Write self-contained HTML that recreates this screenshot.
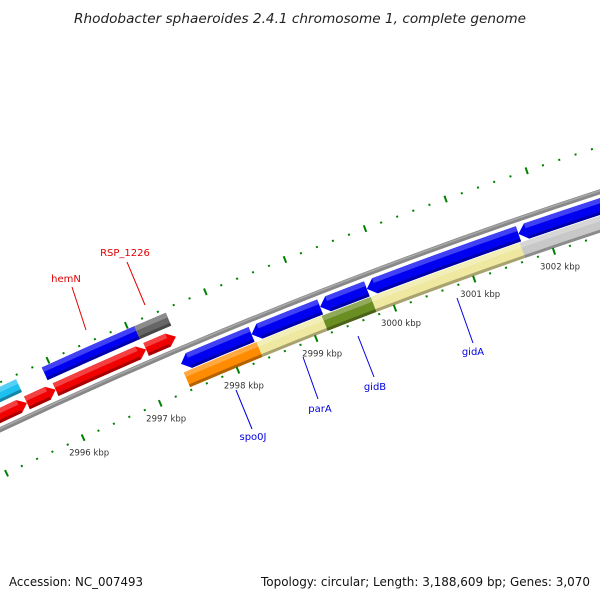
<!DOCTYPE html>
<html><head><meta charset="utf-8">
<style>
html,body{margin:0;padding:0;background:#fff;width:600px;height:600px;overflow:hidden;}
svg{display:block;}
text{font-family:"DejaVu Sans","Liberation Sans",sans-serif;}
</style></head>
<body>
<svg id="map" width="600" height="600" viewBox="0 0 600 600" xmlns="http://www.w3.org/2000/svg">
<defs><clipPath id="clip"><rect x="0" y="0" width="600" height="600"/></clipPath></defs>
<text x="300" y="23" text-anchor="middle" font-size="13" font-style="italic" fill="#222" textLength="452" lengthAdjust="spacingAndGlyphs">Rhodobacter sphaeroides 2.4.1 chromosome 1, complete genome</text>
<g id="plot" clip-path="url(#clip)"></g>
<text x="9" y="586" font-size="12" fill="#111" textLength="134" lengthAdjust="spacingAndGlyphs">Accession: NC_007493</text>
<text x="261" y="586" font-size="12" fill="#111" textLength="329" lengthAdjust="spacingAndGlyphs">Topology: circular; Length: 3,188,609 bp; Genes: 3,070</text>
</svg>
<script>
// data
const geneStarts = [2994.0, 2995.9, 2997.08, 2994.0, 2995.57, 2995.94, 2997.1, 2997.41, 2998.31, 2999.18, 2999.77, 3001.67, 2997.4, 2998.33, 2999.16, 2999.78, 3001.65];
const geneEnds   = [2995.57, 2997.08, 2997.48, 2995.57, 2995.94, 2997.1, 2997.48, 2998.31, 2999.18, 2999.77, 3001.67, 3004.0, 2998.33, 2999.16, 2999.78, 3001.65, 3004.0];
const geneRows   = ['lb','lb','lb','lr','lr','lr','lr','rb','rb','rb','rb','rb','ry','ry','ry','ry','ry'];
const geneColors = ['#1ec0f0','#0000f0','#666666','#f00000','#f00000','#f00000','#f00000','#0000f0','#0000f0','#0000f0','#0000f0','#0000f0','#ff8c00','#eee8a0','#6b8e23','#eee8a0','#c8c8c8'];
const geneDirs   = [0,0,0,1,1,1,1,-1,-1,-1,-1,-1,0,0,0,0,0];
const tickLabels = [2996, 2997, 2998, 2999, 3000, 3001, 3002];
const geneLabels = ['hemN','RSP_1226','spo0J','parA','gidB','gidA'];
const geneLabelColors = ['#e00000','#e00000','#0000e0','#0000e0','#0000e0','#0000e0'];
const labelPos = [[66,282,72,287,86,330],[125,256,127,262,145,305],[253,440,236,390,252,429],[320,412,303,357,318,399],[375,390,358,336,374,377],[473,355,457,298,473,343]];

const CX=2176, CY=5039;
const ROWS={lb:[5122,5136],lr:[5103,5117],rb:[5075,5091],ry:[5058,5074]};
const R_BACK=5097, R_IN=5055, R_OUT=5140;
function ang(k){return (-110.63+(k-3000)*0.957)*Math.PI/180;}
function pt(k,r){const a=ang(k);return [CX+r*Math.cos(a),CY+r*Math.sin(a)];}
function f(p){return p[0].toFixed(2)+' '+p[1].toFixed(2);}
const NS='http://www.w3.org/2000/svg';
const plot=document.getElementById('plot');
function mk(tag,attrs){const e=document.createElementNS(NS,tag);for(const k in attrs)e.setAttribute(k,attrs[k]);plot.appendChild(e);return e;}
function band(k1,k2,r1,r2,dir){
  const ah=0.1;
  let d;
  const rm=(r1+r2)/2;
  if(dir===1){
    const ke=Math.max(k1,k2-ah);
    d='M'+f(pt(k1,r2))+' A'+r2+' '+r2+' 0 0 1 '+f(pt(ke,r2))+' L'+f(pt(k2,rm))+' L'+f(pt(ke,r1))+' A'+r1+' '+r1+' 0 0 0 '+f(pt(k1,r1))+' Z';
  }else if(dir===-1){
    const ks=Math.min(k2,k1+ah);
    d='M'+f(pt(k1,rm))+' L'+f(pt(ks,r2))+' A'+r2+' '+r2+' 0 0 1 '+f(pt(k2,r2))+' L'+f(pt(k2,r1))+' A'+r1+' '+r1+' 0 0 0 '+f(pt(ks,r1))+' Z';
  }else{
    d='M'+f(pt(k1,r2))+' A'+r2+' '+r2+' 0 0 1 '+f(pt(k2,r2))+' L'+f(pt(k2,r1))+' A'+r1+' '+r1+' 0 0 0 '+f(pt(k1,r1))+' Z';
  }
  return d;
}
function shade(hex,amt){const n=parseInt(hex.slice(1),16);let r=n>>16,g=(n>>8)&255,b=n&255;
  const t=amt>0?255:0,a=Math.abs(amt);r=Math.round(r+(t-r)*a);g=Math.round(g+(t-g)*a);b=Math.round(b+(t-b)*a);
  return 'rgb('+r+','+g+','+b+')';}

// backbone
const bb=mk('path',{d:'M'+f(pt(2990,R_BACK))+' A'+R_BACK+' '+R_BACK+' 0 0 1 '+f(pt(3006,R_BACK)),fill:'none',stroke:'#888',
 'stroke-width':5});


const bb2=mk('path',{d:'M'+f(pt(2990,R_BACK+1))+' A'+(R_BACK+1)+' '+(R_BACK+1)+' 0 0 1 '+f(pt(3006,R_BACK+1)),fill:'none',stroke:'#a8a8a8','stroke-width':1.5});



// genes
for(let i=0;i<geneStarts.length;i++){
  const row=ROWS[geneRows[i]];const r1=row[0],r2=row[1],c=geneColors[i];
  const g=mk('path',{d:band(geneStarts[i],geneEnds[i],r1,r2,geneDirs[i]),fill:c});
  
  
  let hs=geneStarts[i],he=geneEnds[i];
  if(geneDirs[i]===1)he-=0.1;
  if(geneDirs[i]===-1)hs+=0.1;
  const h=mk('path',{d:band(hs,he,r2-5,r2,0),fill:shade(c,0.25)});
  
  
  const s=mk('path',{d:band(hs,he,r1,r1+3,0),fill:shade(c,-0.3)});
  
  
}

// ticks (every 0.2 kbp)
for(let t=29900;t<=30060;t+=2){
  const k=t/10;const major=(t%10===0);
  const len=major?3.5:1;
  [R_IN,R_OUT].forEach(function(R){
    const tk=mk('line',{x1:pt(k,R-len)[0],y1:pt(k,R-len)[1],x2:pt(k,R+len)[0],y2:pt(k,R+len)[1],stroke:'#008000','stroke-width':2});
    
    
  });
}
tickLabels.forEach(function(k){
  const p=pt(k,R_IN);
  const tx=mk('text',{x:(p[0]+6).toFixed(1),y:(p[1]+18).toFixed(1),'text-anchor':'middle','font-size':8.5,fill:'#333'});
  tx.textContent=k+' kbp';
  
  
});

// gene labels
geneLabels.forEach(function(name,i){
  const L=labelPos[i];
  const ln=mk('line',{x1:L[2],y1:L[3],x2:L[4],y2:L[5],stroke:geneLabelColors[i],'stroke-width':1});
  
  
  const tx=mk('text',{x:L[0],y:L[1],'text-anchor':'middle','font-size':10,fill:geneLabelColors[i]});
  tx.textContent=name;
  
  
});
</script>
</body></html>
